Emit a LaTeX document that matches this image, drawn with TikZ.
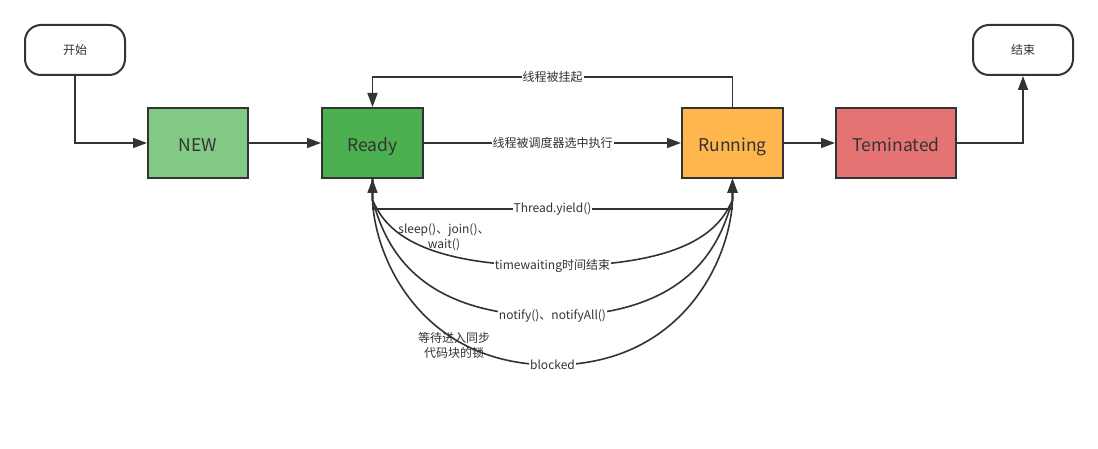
\documentclass[tikz,border=0pt]{standalone}
\usepackage{fontspec}
\setmainfont{Noto Sans CJK SC}
\usetikzlibrary{arrows.meta}
\definecolor{linec}{HTML}{333333}
\definecolor{txtc}{HTML}{333333}
\definecolor{newc}{HTML}{82C985}
\definecolor{readyc}{HTML}{4CAF50}
\definecolor{runc}{HTML}{FFB74D}
\definecolor{termc}{HTML}{E57373}
\tikzset{
  stbox/.style={draw=linec, line width=2pt, minimum width=101pt, minimum height=70pt,
    inner sep=0pt, text height=17pt, text depth=0pt, text=txtc, font=\fontsize{17.5}{20}\selectfont},
  endbox/.style={draw=linec, line width=2pt, rounded corners=16pt, minimum width=100pt,
    minimum height=50pt, inner sep=0pt, fill=white, text=txtc, font=\fontsize{12}{14}\selectfont},
  arr/.style={draw=linec, line width=1.6pt, -{Triangle[length=14pt,width=10pt]}},
  lbl/.style={fill=white, inner sep=1pt, text=txtc, font=\fontsize{12}{14}\selectfont},
  freelbl/.style={inner sep=0pt, text=txtc, align=center, font=\fontsize{12}{15}\selectfont},
}
\begin{document}
\begin{tikzpicture}[x=1pt,y=-1pt]
\useasboundingbox[fill=white] (0,0) rectangle (1098,449);
% nodes
\node[endbox] (start) at (75,50) {开始};
\node[endbox] (finish) at (1023,50) {结束};
\node[stbox, fill=newc, minimum width=100pt] (new) at (198,143) {NEW};
\node[stbox, fill=readyc] (ready) at (372.5,143) {Ready};
\node[stbox, fill=runc] (run) at (732.5,143) {Running};
\node[stbox, fill=termc, minimum width=120pt] (term) at (896,143) {Teminated};
% straight connectors
\draw[arr] (start.south) |- (new.west);
\draw[arr] (new.east) -- (ready.west);
\draw[arr] (ready.east) -- node[lbl] {线程被调度器选中执行} (run.west);
\draw[arr] (run.north) -- ++(0,-30) -| node[lbl, pos=0.25] {线程被挂起} (ready.north);
\draw[arr] (run.east) -- (term.west);
\draw[arr] (term.east) -| (finish.south);
% curves Ready -> Running
\draw[arr] (ready.south) -- (372.5,200)
  .. controls (382,220) and (403,266) .. (552.5,266) node[lbl] {timewaiting时间结束}
  .. controls (702,266) and (723,220) .. (732.5,200) -- (run.south);
\draw[arr] (ready.south) -- (372.5,200)
  .. controls (382,230) and (403,316) .. (552.5,316) node[lbl] {notify()、notifyAll()}
  .. controls (702,316) and (723,230) .. (732.5,200) -- (run.south);
\draw[arr] (ready.south) -- (372.5,200)
  .. controls (375,260) and (423,365) .. (552.5,365) node[lbl] {blocked}
  .. controls (682,365) and (730,260) .. (732.5,200) -- (run.south);
% Thread.yield
\draw[arr] (run.south) -- ++(0,30) -| node[lbl, pos=0.25] {Thread.yield()} (ready.south);
% free labels
\node[freelbl] (sleeplbl) at (444,237) {sleep()、join()、\\wait()};
\node[freelbl] (locklbl) at (454,345) {等待进入同步\\代码块的锁};
\end{tikzpicture}
\end{document}
